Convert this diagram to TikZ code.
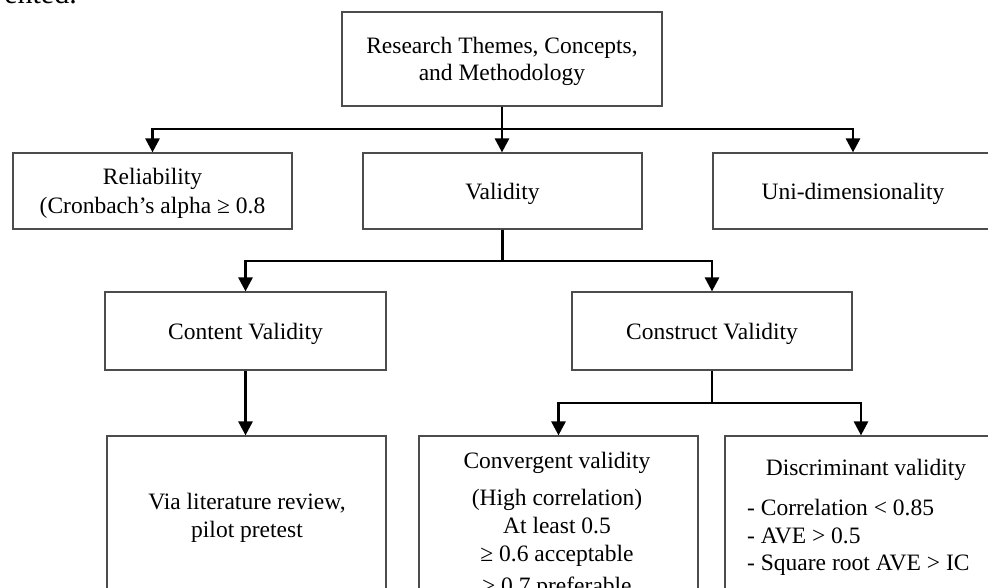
\documentclass[tikz,border=0pt]{standalone}
\usepackage{fontspec}
\setmainfont{Liberation Serif}
\usetikzlibrary{arrows.meta}
\begin{document}
\begin{tikzpicture}[x=1pt,y=-1pt,
  every node/.style={font=\fontsize{23.5}{27.5}\selectfont},
  box/.style={draw=black!70, line width=1.2pt, inner sep=0pt, align=center, text depth=0pt},
  conn/.style={line width=2.8pt, -{Triangle[length=14pt,width=14pt]}},
  txt/.style={inner sep=0pt}]
\useasboundingbox (0,0) rectangle (988,588);
\clip (0,0) rectangle (988,588);

% tail of the preceding paragraph
\node[txt, anchor=base east, font=\fontsize{30}{30}\selectfont] (frag) at (77,3.5) {ented.};

% level 1
\node[box, minimum width=320, minimum height=94, text depth=-2pt] (top) at (502,59)
  {Research Themes, Concepts,\\and Methodology};

% level 2
\node[box, minimum width=279, minimum height=76, text depth=-4pt] (rel) at (152.5,191)
  {Reliability\\[1.5pt](Cronbach’s alpha ≥ 0.8};
\node[box, minimum width=279, minimum height=76] (val) at (502.5,191) {Validity};
\node[box, minimum width=280, minimum height=76] (uni) at (853,191) {Uni-dimensionality};

% level 3
\node[box, minimum width=281, minimum height=78] (cont) at (245.5,331) {Content Validity};
\node[box, minimum width=280, minimum height=78] (constr) at (712,331) {Construct Validity};

% level 4 frames
\node[box, minimum width=279, minimum height=240] (via) at (246.5,556) {};
\node[box, minimum width=279, minimum height=240] (conv) at (558.5,556) {};
\node[box, minimum width=272, minimum height=240] (disc) at (861,556) {};

% level 4 texts
\node[txt, align=center, anchor=north] (viatext) at (247,493)
  {Via literature review,\\pilot pretest};
\node[txt, align=center, anchor=north] (convtext) at (557,452)
  {Convergent validity\\[9.5pt](High correlation)\\At least 0.5\\[0.5pt]≥ 0.6 acceptable\\[5pt]≥ 0.7 preferable};
\node[txt, anchor=north] (disctitle) at (866,459) {Discriminant validity};
\node[txt, align=left, anchor=north west] (disclist) at (747,499)
  {- Correlation < 0.85\\- AVE > 0.5\\- Square root AVE > IC};

% branch points
\coordinate (br1) at (502,129);
\coordinate (br2) at (502,261);
\coordinate (br3) at (712,403);

% connectors
\draw[conn] (top.south) -- (top.south |- val.north);
\draw[conn] (top.south) -- (top.south |- br1) -| (rel.north);
\draw[conn] (top.south) -- (top.south |- br1) -| (uni.north);

\draw[conn] (val.south) -- (val.south |- br2) -| (cont.north);
\draw[conn] (val.south) -- (val.south |- br2) -| (constr.north);

\draw[conn] (cont.south) -- (cont.south |- via.north);

\draw[conn] (constr.south) -- (constr.south |- br3) -| (conv.north);
\draw[conn] (constr.south) -- (constr.south |- br3) -| (disc.north);
\end{tikzpicture}
\end{document}
